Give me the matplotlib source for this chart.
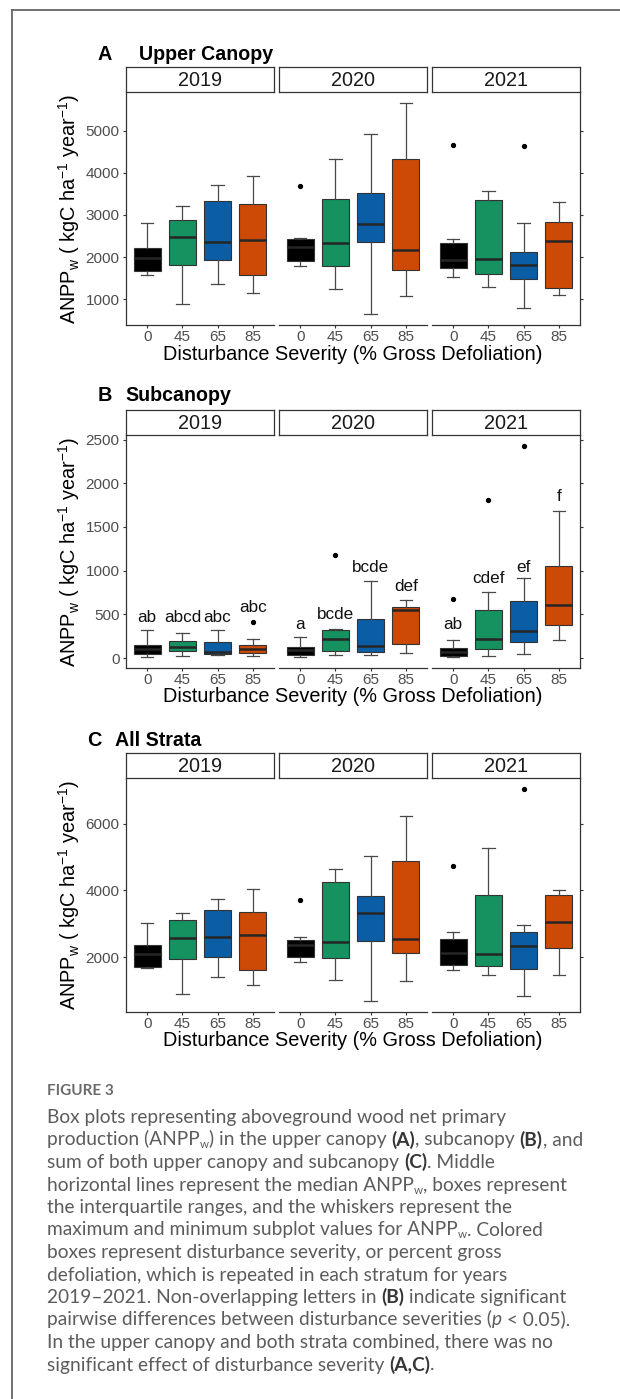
import matplotlib
matplotlib.use("Agg")
import matplotlib.pyplot as plt
from matplotlib.lines import Line2D

plt.rcParams['font.family'] = ['Liberation Sans', 'DejaVu Sans']
plt.rcParams['mathtext.fontset'] = 'custom'
plt.rcParams['mathtext.rm'] = 'Liberation Sans'
plt.rcParams['mathtext.it'] = 'Liberation Sans:italic'
plt.rcParams['mathtext.bf'] = 'Liberation Sans:bold'

W, H = 620, 1399

severity = ["0", "45", "65", "85"]
years = ["2019", "2020", "2021"]
box_colors = ["#000000", "#15925f", "#0b5da6", "#cc4a05"]

# (A) upper canopy, one row per year, one value per severity
upper_whislo = [[1577, 881, 1372, 1150], [1783, 1237, 644, 1087], [1538, 1292, 802, 1095]]
upper_q1 = [[1672, 1822, 1941, 1569], [1909, 1791, 2352, 1704], [1743, 1609, 1474, 1261]]
upper_med = [[1972, 2478, 2368, 2407], [2241, 2344, 2787, 2170], [1941, 1964, 1814, 2391]]
upper_q3 = [[2209, 2874, 3324, 3269], [2431, 3387, 3514, 4328], [2328, 3356, 2115, 2826]]
upper_whishi = [[2818, 3221, 3704, 3933], [2462, 4336, 4913, 5664], [2439, 3561, 2810, 3300]]
upper_out = [[[], [], [], []], [[3688], [], [], []], [[4652], [], [4644], []]]

# (B) subcanopy
sub_whislo = [[8, 19, 38, 27], [8, 38, 38, 61], [11, 23, 50, 202]]
sub_q1 = [[46, 84, 50, 53], [34, 76, 69, 160], [27, 99, 179, 378]]
sub_med = [[103, 126, 65, 103], [88, 218, 141, 550], [69, 221, 305, 603]]
sub_q3 = [[153, 195, 183, 145], [122, 324, 443, 580], [115, 546, 649, 1057]]
sub_whishi = [[324, 286, 324, 221], [244, 336, 878, 668], [202, 756, 920, 1687]]
sub_out = [[[], [], [], [412]], [[], [1176], [], []], [[679], [1809], [2431], []]]
sub_letters = [["ab", "abcd", "abc", "abc"], ["a", "bcde", "bcde", "def"],
               ["ab", "cdef", "ef", "f"]]
sub_letter_at = [[466, 466, 466, 580], [382, 496, 1038, 820], [389, 908, 1031, 1844]]

# (C) all strata
all_whislo = [[1668, 895, 1407, 1176], [1839, 1307, 673, 1276], [1608, 1477, 844, 1477]]
all_q1 = [[1699, 1950, 2000, 1618], [1990, 1970, 2482, 2111], [1759, 1739, 1648, 2261]]
all_med = [[2080, 2583, 2603, 2653], [2362, 2462, 3327, 2533], [2131, 2101, 2342, 3065]]
all_q3 = [[2352, 3106, 3427, 3367], [2503, 4241, 3839, 4884], [2543, 3869, 2764, 3869]]
all_whishi = [[3015, 3317, 3749, 4040], [2613, 4633, 5035, 6221], [2754, 5266, 2975, 4000]]
all_out = [[[], [], [], []], [[3719], [], [], []], [[4744], [], [7055], []]]

caption_lines = [
    [("Box plots representing aboveground wood net primary", "n")],
    [("production (ANPP", "n"), ("w", "s"), (") in the upper canopy ", "n"), ("(A)", "b"),
     (", subcanopy ", "n"), ("(B)", "b"), (", and", "n")],
    [("sum of both upper canopy and subcanopy ", "n"), ("(C)", "b"), (". Middle", "n")],
    [("horizontal lines represent the median ANPP", "n"), ("w", "s"), (", boxes represent", "n")],
    [("the interquartile ranges, and the whiskers represent the", "n")],
    [("maximum and minimum subplot values for ANPP", "n"), ("w", "s"), (". Colored", "n")],
    [("boxes represent disturbance severity, or percent gross", "n")],
    [("defoliation, which is repeated in each stratum for years", "n")],
    [("2019\u20132021. Non-overlapping letters in ", "n"), ("(B)", "b"),
     (" indicate significant", "n")],
    [("pairwise differences between disturbance severities (", "n"), ("p", "i"),
     (" < 0.05).", "n")],
    [("In the upper canopy and both strata combined, there was no", "n")],
    [("significant effect of disturbance severity ", "n"), ("(A,C)", "b"), (".", "n")],
]

fig = plt.figure(figsize=(W / 100, H / 100), dpi=100)
fig.patch.set_facecolor("white")


def fx(px):
    return px / W


def fy(px):
    return 1 - px / H


# card border (left and top)
fig.add_artist(Line2D([fx(12), fx(12)], [fy(10), 0], color="#666666", lw=1.3))
fig.add_artist(Line2D([fx(12), 1], [fy(10), fy(10)], color="#666666", lw=1.3))

FACET_LEFT, FACET_W, FACET_GAP = 126, 148, 5
AXIS_COL = "#333333"


def panel(top, bottom, letter, letter_x, title, title_x, baseline,
          whislo, q1, med, q3, whishi, out, yticks, letters=None, letter_at=None):
    vals = [v for row in whislo for v in row] + [v for row in whishi for v in row]
    vals += [v for row in out for cell in row for v in cell]
    lo, hi = min(vals), max(vals)
    pad = 0.05 * (hi - lo)

    fig.text(fx(letter_x), fy(baseline), letter, ha="center", va="baseline",
             fontsize=14.3, weight="bold")
    fig.text(fx(title_x), fy(baseline), title, ha="left", va="baseline",
             fontsize=14.1, weight="bold")

    for j, year in enumerate(years):
        left = FACET_LEFT + j * (FACET_W + FACET_GAP)
        ax = fig.add_axes([fx(left), fy(bottom), FACET_W / W, (bottom - top) / H])
        stats = []
        for k in range(4):
            stats.append(dict(whislo=whislo[j][k], q1=q1[j][k], med=med[j][k],
                              q3=q3[j][k], whishi=whishi[j][k], fliers=out[j][k]))
        res = ax.bxp(stats, positions=range(4), widths=0.76, capwidths=0.36,
                     patch_artist=True, showfliers=True,
                     boxprops=dict(edgecolor=AXIS_COL, linewidth=0.8),
                     whiskerprops=dict(color="#484848", linewidth=0.9),
                     capprops=dict(color="#484848", linewidth=0.9),
                     medianprops=dict(color="#262626", linewidth=1.8),
                     flierprops=dict(marker="o", markersize=2.8,
                                     markerfacecolor="black", markeredgecolor="black"))
        for k, box in enumerate(res["boxes"]):
            box.set_facecolor(box_colors[k])
        if letters is not None:
            for k in range(4):
                ax.text(k, letter_at[j][k], letters[j][k], ha="center", va="center",
                        fontsize=12.3, color="#111111")

        ax.set_xlim(-0.6, 3.6)
        ax.set_ylim(lo - pad, hi + pad)
        ax.set_xticks(range(4))
        ax.set_xticklabels(severity)
        ax.set_yticks(yticks)
        ax.set_yticklabels([str(t) for t in yticks])
        ax.tick_params(axis="x", length=2, width=0.8, color=AXIS_COL, pad=1.5,
                       labelsize=11, labelcolor="#4d4d4d")
        ax.tick_params(axis="y", length=2, width=0.8, color=AXIS_COL, pad=2.5,
                       labelsize=11, labelcolor="#4d4d4d")
        for s in ax.spines.values():
            s.set_color(AXIS_COL)
            s.set_linewidth(0.9)
        ax.spines["top"].set_visible(False)
        ax.spines["right"].set_visible(j == 2)
        ax.spines["left"].set_visible(j == 0)
        if j == 0:
            ax.yaxis.set_ticks_position("left")
        elif j == 2:
            ax.yaxis.set_ticks_position("right")
            ax.tick_params(axis="y", labelright=False)
        else:
            ax.tick_params(axis="y", left=False, labelleft=False)

        strip = fig.add_axes([fx(left), fy(top), FACET_W / W, 25 / H])
        strip.set_xticks([])
        strip.set_yticks([])
        for s in strip.spines.values():
            s.set_color(AXIS_COL)
            s.set_linewidth(0.9)
        strip.text(0.5, 0.47, year, ha="center", va="center", fontsize=14.3,
                   color="#1a1a1a", transform=strip.transAxes)

    mid_x = FACET_LEFT + (3 * FACET_W + 2 * FACET_GAP) / 2
    fig.text(fx(mid_x), fy(bottom + 29), "Disturbance Severity (% Gross Defoliation)",
             ha="center", va="center", fontsize=14.3)
    fig.text(fx(69), fy((top + bottom) / 2),
             r"ANPP$_{\mathrm{w}}$ ( kgC ha$^{-1}$ year$^{-1}$)",
             rotation=90, ha="center", va="center", fontsize=14.3)


panel(92, 325, "A", 105, "Upper Canopy", 139, 60,
      upper_whislo, upper_q1, upper_med, upper_q3, upper_whishi, upper_out,
      [1000, 2000, 3000, 4000, 5000])
panel(435, 668, "B", 105, "Subcanopy", 125, 400.7,
      sub_whislo, sub_q1, sub_med, sub_q3, sub_whishi, sub_out,
      [0, 500, 1000, 1500, 2000, 2500], sub_letters, sub_letter_at)
panel(778, 1012, "C", 94.5, "All Strata", 115, 746,
      all_whislo, all_q1, all_med, all_q3, all_whishi, all_out,
      [2000, 4000, 6000])

# caption
CAP_FS = 13.8
CAP_COL = "#5c5c5c"
CAP_FONT = ["Lato", "DejaVu Sans"]
renderer = fig.canvas.get_renderer()


def seg_style(st):
    kw = dict(family=CAP_FONT, fontsize=CAP_FS, color=CAP_COL)
    dy = 0
    if st == "b":
        kw.update(weight="bold", color="#363636")
    elif st == "i":
        kw.update(style="italic")
    elif st == "s":
        kw.update(fontsize=CAP_FS * 0.6)
        dy = -3
    return kw, dy


def seg_width(s, kw):
    a = fig.text(0, 0, "|" + s + "|", **kw)
    b = fig.text(0, 0, "||", **kw)
    w = a.get_window_extent(renderer).width - b.get_window_extent(renderer).width
    a.remove()
    b.remove()
    return w


fig.text(fx(47), fy(1095), "FIGURE 3", family=CAP_FONT, fontsize=11,
         weight="bold", color="#6a6a6a", va="baseline")

for i, parts in enumerate(caption_lines):
    x = 47
    base = 1123 + i * 22.5
    for s, st in parts:
        kw, dy = seg_style(st)
        fig.text(fx(x), fy(base - dy), s, va="baseline", **kw)
        x += seg_width(s, kw)

fig.savefig("out.png", dpi=100, facecolor="white")
